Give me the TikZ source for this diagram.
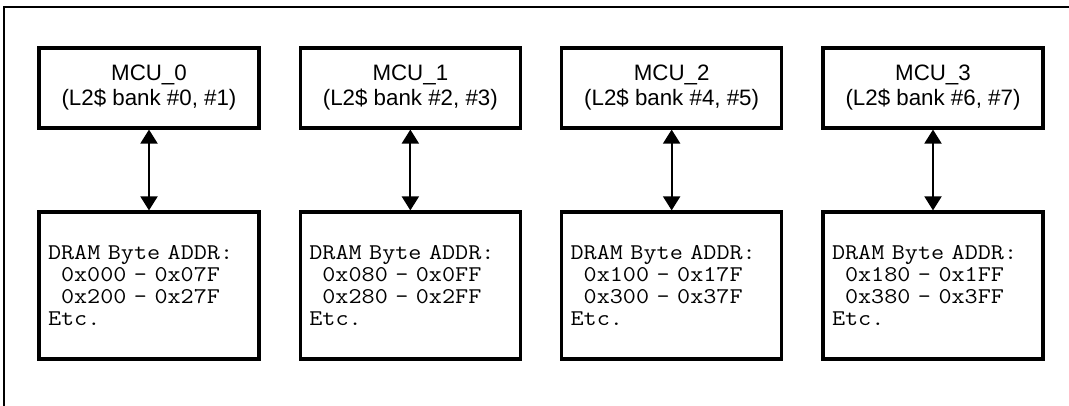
\documentclass[tikz,border=0pt]{standalone}
\usepackage{fontspec}
\setmainfont{Liberation Sans}
\setmonofont[FakeStretch=1.13]{Latin Modern Mono}
\usetikzlibrary{arrows.meta, positioning}

\tikzset{
	mcu/.style={draw, line width=1.8pt, minimum width=4.4cm, minimum height=1.6cm, inner sep=0pt, align=center, font=\fontsize{12.7}{14.2}\selectfont},
	dram/.style={draw, line width=1.8pt, minimum height=2.94cm, text width=4.04cm, inner xsep=0.18cm, align=left, font=\ttfamily\fontsize{12.8}{12.5}\selectfont},
	link/.style={{Triangle[width=0.34cm,length=0.28cm]}-{Triangle[width=0.34cm,length=0.28cm]}, line width=1.1pt}
}

\begin{document}
\begin{tikzpicture}
	\useasboundingbox (0,0) rectangle (21.38,8.12);
	\draw[line width=1.6pt] (0.08,0) -- (0.08,7.98) -- (21.38,7.98);

	\node[mcu] (mcuZero) at (2.98,6.36) {MCU\_0\\(L2\$ bank \#0, \#1)};
	\node[mcu] (mcuOne) at (8.207,6.36) {MCU\_1\\(L2\$ bank \#2, \#3)};
	\node[mcu] (mcuTwo) at (13.433,6.36) {MCU\_2\\(L2\$ bank \#4, \#5)};
	\node[mcu] (mcuThree) at (18.66,6.36) {MCU\_3\\(L2\$ bank \#6, \#7)};

	\node[dram] (dramZero) at (2.98,2.41) {DRAM Byte ADDR:\\\hspace*{.58em}0x000 – 0x07F\\\hspace*{.58em}0x200 – 0x27F\\Etc.};
	\node[dram] (dramOne) at (8.207,2.41) {DRAM Byte ADDR:\\\hspace*{.58em}0x080 – 0x0FF\\\hspace*{.58em}0x280 – 0x2FF\\Etc.};
	\node[dram] (dramTwo) at (13.433,2.41) {DRAM Byte ADDR:\\\hspace*{.58em}0x100 – 0x17F\\\hspace*{.58em}0x300 – 0x37F\\Etc.};
	\node[dram] (dramThree) at (18.66,2.41) {DRAM Byte ADDR:\\\hspace*{.58em}0x180 – 0x1FF\\\hspace*{.58em}0x380 – 0x3FF\\Etc.};

	\draw[link] (mcuZero) to (dramZero);
	\draw[link] (mcuOne) to (dramOne);
	\draw[link] (mcuTwo) to (dramTwo);
	\draw[link] (mcuThree) to (dramThree);
\end{tikzpicture}
\end{document}
